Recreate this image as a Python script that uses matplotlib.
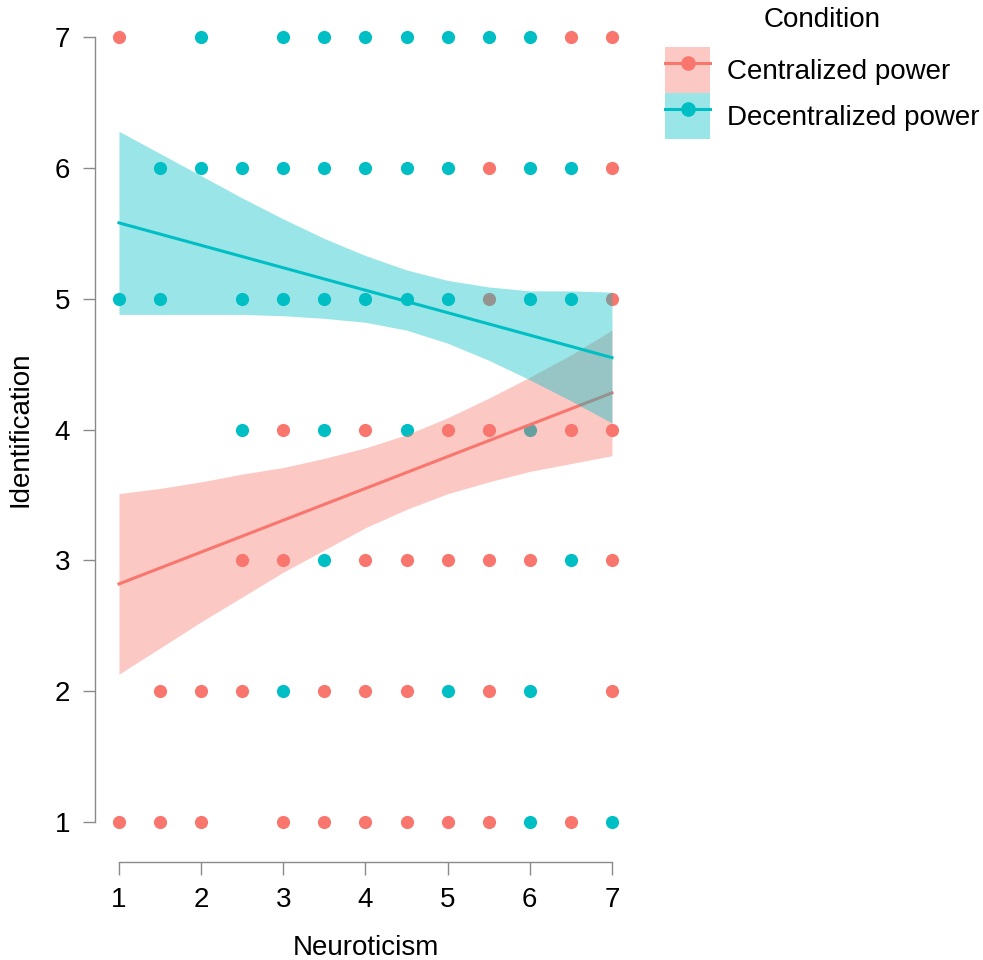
import matplotlib
matplotlib.use('Agg')
import matplotlib.pyplot as plt
from matplotlib.patches import Patch
from matplotlib.lines import Line2D

plt.rcParams['font.family'] = ['Liberation Sans', 'DejaVu Sans']

# observed points (unique positions only), by condition
cent_x = [1, 6.5, 7,
          5.5, 7,
          5.5, 7,
          3, 4, 5, 5.5, 6.5, 7,
          2.5, 3, 4, 4.5, 5, 5.5, 6, 7,
          1.5, 2, 2.5, 3.5, 4, 4.5, 5.5, 7,
          1, 1.5, 2, 3, 3.5, 4, 4.5, 5, 5.5, 6.5]
cent_y = [7, 7, 7,
          6, 6,
          5, 5,
          4, 4, 4, 4, 4, 4,
          3, 3, 3, 3, 3, 3, 3, 3,
          2, 2, 2, 2, 2, 2, 2, 2,
          1, 1, 1, 1, 1, 1, 1, 1, 1, 1]

dec_x = [2, 3, 3.5, 4, 4.5, 5, 5.5, 6,
         1.5, 2, 2.5, 3, 3.5, 4, 4.5, 5, 6, 6.5,
         1, 1.5, 2.5, 3, 3.5, 4, 4.5, 5, 6, 6.5,
         2.5, 3.5, 4.5, 6,
         3.5, 6.5,
         3, 5, 6,
         6, 7]
dec_y = [7, 7, 7, 7, 7, 7, 7, 7,
         6, 6, 6, 6, 6, 6, 6, 6, 6, 6,
         5, 5, 5, 5, 5, 5, 5, 5, 5, 5,
         4, 4, 4, 4,
         3, 3,
         2, 2, 2,
         1, 1]

# fitted lines and confidence bands
fit_ends = [1, 7]
cent_fit = [2.82, 4.28]
dec_fit = [5.58, 4.55]

band_x = [1, 1.5, 2, 2.5, 3, 3.5, 4, 4.5, 5, 5.5, 6, 6.5, 7]
cent_lo = [2.13, 2.33, 2.53, 2.72, 2.91, 3.08, 3.25, 3.39, 3.51, 3.60, 3.68, 3.74, 3.80]
cent_hi = [3.51, 3.55, 3.60, 3.66, 3.71, 3.78, 3.86, 3.96, 4.09, 4.24, 4.40, 4.57, 4.76]
dec_lo = [4.88, 4.88, 4.88, 4.88, 4.87, 4.85, 4.82, 4.76, 4.66, 4.53, 4.38, 4.22, 4.05]
dec_hi = [6.28, 6.11, 5.94, 5.77, 5.61, 5.46, 5.33, 5.22, 5.14, 5.09, 5.06, 5.06, 5.05]

ticks = [1, 2, 3, 4, 5, 6, 7]
labels = ['Centralized power', 'Decentralized power']

RED = '#F8766D'
TEAL = '#00BFC4'
AXIS_GREY = '#8a8a8a'
FS = 20

fig = plt.figure(figsize=(9.83, 9.6), dpi=100)
ax = fig.add_axes([0.1085, 0.1233, 0.5266, 0.8585])

# points under the ribbons, like ggplot draws them
ax.scatter(cent_x, cent_y, s=90, color=RED, lw=0, zorder=1)
ax.scatter(dec_x, dec_y, s=90, color=TEAL, lw=0, zorder=1)
ax.fill_between(band_x, cent_lo, cent_hi, color=RED, alpha=0.4, lw=0, zorder=2)
ax.plot(fit_ends, cent_fit, color=RED, lw=2.2, zorder=3)
ax.fill_between(band_x, dec_lo, dec_hi, color=TEAL, alpha=0.4, lw=0, zorder=4)
ax.plot(fit_ends, dec_fit, color=TEAL, lw=2.2, zorder=5)

ax.set_xlim(0.85, 7.15)
ax.set_ylim(0.85, 7.15)
ax.set_xticks(ticks)
ax.set_yticks(ticks)

for side in ['top', 'right']:
    ax.spines[side].set_visible(False)
ax.spines['left'].set_position(('outward', 8.4))
ax.spines['bottom'].set_position(('outward', 14.4))
for side in ['left', 'bottom']:
    ax.spines[side].set_bounds(1, 7)
    ax.spines[side].set_color(AXIS_GREY)
    ax.spines[side].set_linewidth(1.0)
ax.tick_params(length=9, width=1.0, color=AXIS_GREY, labelsize=FS, pad=9)

ax.set_xlabel('Neuroticism', fontsize=FS, labelpad=16)
ax.set_ylabel('Identification', fontsize=FS, labelpad=15)

# legend: filled key with line + dot, title placed on its own
handles = [
    (Patch(fc=RED, alpha=0.4, lw=0),
     Line2D([], [], color=RED, lw=2.2, marker='o', ms=9.5)),
    (Patch(fc=TEAL, alpha=0.4, lw=0),
     Line2D([], [], color=TEAL, lw=2.2, marker='o', ms=9.5)),
]
fig.legend(handles, labels, loc='upper left',
           bbox_to_anchor=(665 / 983, 1 - 47 / 960), frameon=False,
           fontsize=FS, handlelength=1.62, handleheight=2.17,
           labelspacing=0, handletextpad=0.6,
           borderpad=0, borderaxespad=0)
fig.text(822 / 983, 1 - 20 / 960, 'Condition', fontsize=FS,
         ha='center', va='center')

fig.savefig('out.png', dpi=100)
